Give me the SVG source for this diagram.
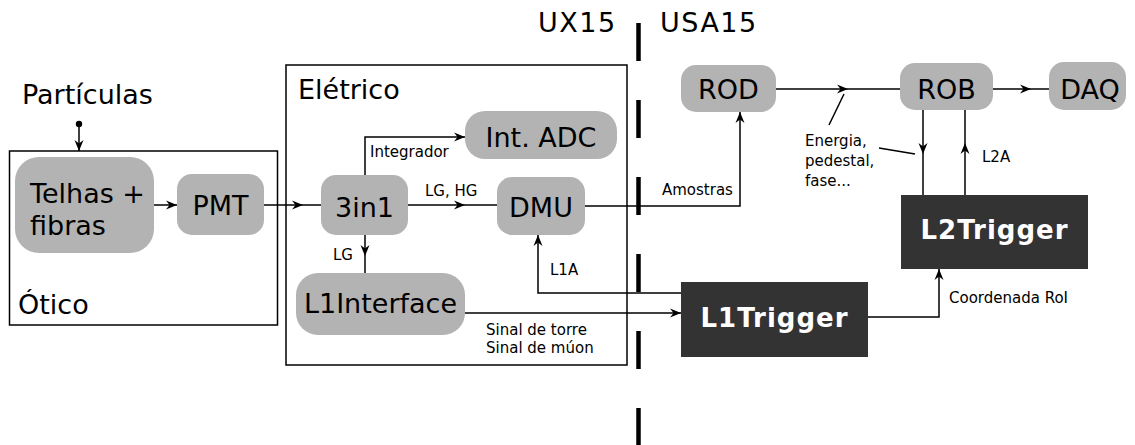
<svg xmlns="http://www.w3.org/2000/svg" width="1135" height="445" viewBox="0 0 1135 445">
  <defs>
    <style>
      text { font-family: "DejaVu Sans", "Liberation Sans", sans-serif; fill: #000; }
      .big { font-size: 27px; text-anchor: middle; }
      .title { font-size: 27px; }
      .zone { font-size: 27px; letter-spacing: 1.5px; }
      .small { font-size: 15px; }
      .dark-label { font-size: 26px; font-weight: bold; fill: #fff; text-anchor: middle; letter-spacing: 1px; }
      .box { fill: #b3b3b3; stroke: none; }
      .dark { fill: #333333; stroke: none; }
      .frame { fill: none; stroke: #000; stroke-width: 1.5; }
      .wire { fill: none; stroke: #000; stroke-width: 1.5; }
      .arrow { fill: none; stroke: #000; stroke-width: 1.5; marker-end: url(#head); }
      .divider { fill: none; stroke: #000; stroke-width: 4.5; stroke-dasharray: 38 39; }
    </style>
    <marker id="head" markerUnits="userSpaceOnUse" markerWidth="14" markerHeight="12" viewBox="-12 -6 14 12" refX="0" refY="0" orient="auto">
      <path d="M0,0 L-11,-4.5 L-7.5,0 L-11,4.5 Z" fill="#000"/>
    </marker>
  </defs>

  <!-- area divider UX15 / USA15 -->
  <g id="divider">
    <line class="divider" x1="638.5" y1="23" x2="638.5" y2="445"/>
    <text class="zone" x="538" y="32">UX15</text>
    <text class="zone" x="660" y="32">USA15</text>
  </g>

  <!-- section frames -->
  <g id="otico">
    <rect class="frame" x="9.5" y="151" width="268" height="174"/>
    <text class="title" x="18" y="314">Ótico</text>
  </g>
  <g id="eletrico">
    <rect class="frame" x="286" y="65" width="341" height="300"/>
    <text class="title" x="298" y="99">Elétrico</text>
  </g>

  <!-- connectors -->
  <g id="connectors">
    <circle cx="79" cy="124" r="3.2" fill="#000"/>
    <path class="arrow" d="M79,124 V151"/>
    <path class="arrow" d="M154,205 H177"/>
    <path class="arrow" d="M264,205 H303"/>
    <path class="wire" d="M303,205 H321"/>
    <path class="arrow" d="M365,175 V137 H465"/>
    <path class="arrow" d="M408,205 H465"/>
    <path class="wire" d="M465,205 H497"/>
    <path class="arrow" d="M365,235 V256"/>
    <path class="wire" d="M365,256 V273"/>
    <path class="arrow" d="M585,206 H740 V112"/>
    <path class="arrow" d="M681,293 H538 V235"/>
    <path class="arrow" d="M465,313 H681"/>
    <path class="arrow" d="M868,317 H939 V269"/>
    <path class="arrow" d="M776,89 H848"/>
    <path class="wire" d="M848,89 H900"/>
    <path class="arrow" d="M993,89 H1031"/>
    <path class="wire" d="M1031,89 H1049"/>
    <path class="arrow" d="M923,110 V154"/>
    <path class="wire" d="M923,154 V195"/>
    <path class="arrow" d="M965,195 V143"/>
    <path class="wire" d="M965,143 V110"/>
    <path class="wire" d="M829,125 L844,94"/>
    <path class="wire" d="M879,148 L915,154"/>
    <text class="small" x="370" y="157">Integrador</text>
    <text class="small" x="425" y="196">LG, HG</text>
    <text class="small" x="333" y="260">LG</text>
    <text class="small" x="550" y="275">L1A</text>
    <text class="small" x="486" y="335">Sinal de torre</text>
    <text class="small" x="486" y="353">Sinal de múon</text>
    <text class="small" x="662" y="195">Amostras</text>
    <text class="small" x="805" y="146">Energia,</text>
    <text class="small" x="805" y="166">pedestal,</text>
    <text class="small" x="805" y="186">fase...</text>
    <text class="small" x="982" y="162">L2A</text>
    <text class="small" x="949" y="303">Coordenada RoI</text>
  </g>

  <!-- nodes -->
  <text class="title" x="22" y="104">Partículas</text>
  <g id="telhas">
    <rect class="box" x="15" y="157" width="139" height="96" rx="24"/>
    <text class="title" x="30" y="203">Telhas +</text>
    <text class="title" x="30" y="235">fibras</text>
  </g>
  <g id="pmt">
    <rect class="box" x="177" y="174" width="87" height="61" rx="15"/>
    <text class="big" x="220.5" y="215">PMT</text>
  </g>
  <g id="three-in-one">
    <rect class="box" x="321" y="175" width="87" height="60" rx="15"/>
    <text class="big" x="364.5" y="217">3in1</text>
  </g>
  <g id="int-adc">
    <rect class="box" x="465" y="111" width="152" height="48" rx="20"/>
    <text class="big" x="541" y="147">Int. ADC</text>
  </g>
  <g id="dmu">
    <rect class="box" x="497" y="177" width="88" height="58" rx="15"/>
    <text class="big" x="541" y="217">DMU</text>
  </g>
  <g id="l1interface">
    <rect class="box" x="296" y="273" width="169" height="62" rx="22"/>
    <text class="big" x="380.5" y="313">L1Interface</text>
  </g>
  <g id="rod">
    <rect class="box" x="681" y="65" width="95" height="47" rx="15"/>
    <text class="big" x="728.5" y="99">ROD</text>
  </g>
  <g id="rob">
    <rect class="box" x="900" y="63" width="93" height="47" rx="15"/>
    <text class="big" x="946.5" y="99">ROB</text>
  </g>
  <g id="daq">
    <rect class="box" x="1049" y="62" width="77" height="48" rx="15"/>
    <text class="big" x="1090" y="99">DAQ</text>
  </g>
  <g id="l1trigger">
    <rect class="dark" x="681" y="282" width="187" height="75"/>
    <text class="dark-label" x="774.5" y="327">L1Trigger</text>
  </g>
  <g id="l2trigger">
    <rect class="dark" x="901" y="195" width="187" height="74"/>
    <text class="dark-label" x="994.5" y="239">L2Trigger</text>
  </g>
</svg>
